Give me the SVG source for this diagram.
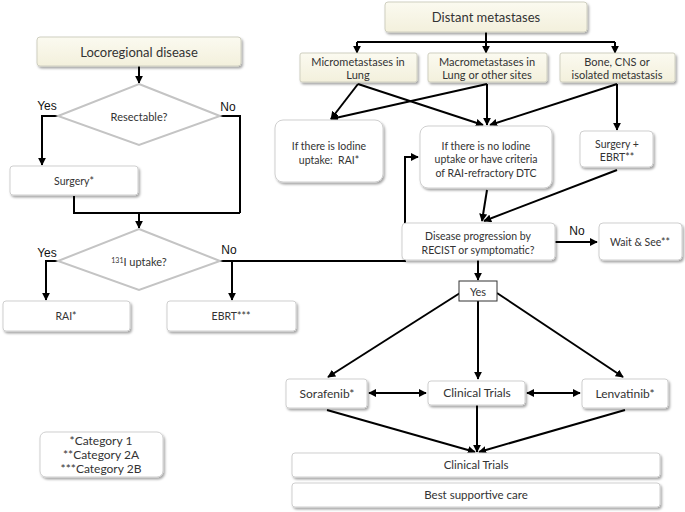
<svg xmlns="http://www.w3.org/2000/svg" width="685" height="512" viewBox="0 0 685 512">
<defs>
<filter id="sh" x="-10%" y="-20%" width="130%" height="160%">
<feDropShadow dx="1.5" dy="2" stdDeviation="1.2" flood-color="#000" flood-opacity="0.35"/>
</filter>
<linearGradient id="cream" x1="0" y1="0" x2="0" y2="1">
<stop offset="0" stop-color="#fbfaf0"/>
<stop offset="1" stop-color="#f3f0dc"/>
</linearGradient>
<marker id="ah" viewBox="0 0 10 10" refX="9" refY="5" markerWidth="8" markerHeight="8" markerUnits="userSpaceOnUse" orient="auto-start-reverse">
<path d="M0,0 L10,5 L0,10 z" fill="#000"/>
</marker>
</defs>
<style>
.box{fill:#fff;stroke:#cfcfcf;stroke-width:1;filter:url(#sh)}
.cr{fill:url(#cream);stroke:#cfcfc0;stroke-width:1;filter:url(#sh)}
.dia{fill:#fff;stroke:#c4c4c4;stroke-width:2}
.t{font-family:Lato,"Liberation Sans",sans-serif;fill:#333;text-anchor:middle}
.a{font-family:"Liberation Sans",Arial,sans-serif;fill:#111;font-size:12px;text-anchor:middle}
.c{fill:none;stroke:#000;stroke-width:2}
.m{marker-end:url(#ah)}
.d{marker-start:url(#ah);marker-end:url(#ah)}
</style>
<rect width="685" height="512" fill="#fff"/>

<g id="connectors">
<path class="c m" d="M139,66 V83"/>
<path class="c m" d="M60,116 H42 V165"/>
<path class="c" d="M220,116 H240 V213"/>
<path class="c" d="M74,196 V213 H240"/>
<path class="c m" d="M139,213 V228"/>
<path class="c m" d="M58,261 H46 V300"/>
<path class="c m" d="M220,261 H232 V300"/>
<path class="c m" d="M232,261 H405 V157 H418"/>
<path class="c" d="M486,32 V42 M357,42 H615"/>
<path class="c m" d="M357,42 V53"/>
<path class="c m" d="M486,42 V53"/>
<path class="c m" d="M615,42 V53"/>
<path class="c m" d="M358,84 L331,119"/>
<path class="c m" d="M358,84 L483,125"/>
<path class="c m" d="M487,84 L331,119"/>
<path class="c m" d="M487,84 V125"/>
<path class="c m" d="M617,84 L490,125"/>
<path class="c m" d="M617,84 V130"/>
<path class="c m" d="M487,190 L482,221"/>
<path class="c m" d="M617,170 L484,221"/>
<path class="c m" d="M555,242 H597"/>
<path class="c m" d="M478,260 V280"/>
<path class="c m" d="M460,293 L328,377"/>
<path class="c m" d="M478,301 V379"/>
<path class="c m" d="M497,293 L623,377"/>
<path class="c d" d="M369,393 H426"/>
<path class="c d" d="M527,393 H580"/>
<path class="c m" d="M327,410 L475,452"/>
<path class="c m" d="M477,405 V452"/>
<path class="c m" d="M625,410 L479,452"/>
</g>

<g id="locoregional"><rect class="cr" x="37" y="37" width="204" height="29" rx="3"/><text class="t" x="139" y="57" font-size="13">Locoregional disease</text></g>
<g id="resectable"><path class="dia" d="M139,84 L220,116 L139,145 L58,116 z"/><text class="t" x="139" y="121" font-size="11">Resectable?</text></g>
<g id="labels1"><text class="a" x="47" y="110">Yes</text><text class="a" x="228" y="111">No</text></g>
<g id="surgery"><rect class="box" x="10" y="166" width="128" height="29" rx="3"/><text class="t" x="74" y="185" font-size="10.5">Surgery*</text></g>
<g id="uptake"><path class="dia" d="M139,229 L220,261 L139,290 L58,261 z"/><text class="t" x="139" y="266" font-size="11"><tspan font-size="7" dy="-3">131</tspan><tspan dy="3">I uptake?</tspan></text></g>
<g id="labels2"><text class="a" x="47" y="257">Yes</text><text class="a" x="229" y="254">No</text></g>
<g id="rai"><rect class="box" x="3" y="301" width="127" height="30" rx="3"/><text class="t" x="66" y="320" font-size="10.5">RAI*</text></g>
<g id="ebrt"><rect class="box" x="167" y="301" width="129" height="30" rx="3"/><text class="t" x="231" y="320" font-size="10.5">EBRT***</text></g>

<g id="distant"><rect class="cr" x="385" y="2" width="202" height="30" rx="3"/><text class="t" x="486" y="22" font-size="13">Distant metastases</text></g>
<g id="micro"><rect class="cr" x="300" y="53" width="117" height="29" rx="2"/><text class="t" x="358" y="66" font-size="11">Micrometastases in</text><text class="t" x="358" y="79" font-size="11">Lung</text></g>
<g id="macro"><rect class="cr" x="428" y="53" width="119" height="29" rx="2"/><text class="t" x="487" y="66" font-size="11">Macrometastases in</text><text class="t" x="487" y="79" font-size="11">Lung or other sites</text></g>
<g id="bone"><rect class="cr" x="560" y="53" width="115" height="29" rx="2"/><text class="t" x="617" y="66" font-size="11">Bone, CNS or</text><text class="t" x="617" y="79" font-size="11">isolated metastasis</text></g>
<g id="iodine"><rect class="box" x="275" y="120" width="108" height="62" rx="8"/><text class="t" x="329" y="150" font-size="10.5">If there is Iodine</text><text class="t" x="329" y="164" font-size="10.5" xml:space="preserve">uptake:  RAI*</text></g>
<g id="noiodine"><rect class="box" x="420" y="126" width="132" height="62" rx="8"/><text class="t" x="486" y="150" font-size="10.5">If there is no Iodine</text><text class="t" x="486" y="163" font-size="10.5">uptake or have criteria</text><text class="t" x="486" y="177" font-size="10.5">of RAI-refractory DTC</text></g>
<g id="surgebrt"><rect class="box" x="580" y="131" width="73" height="36" rx="4"/><text class="t" x="617" y="148" font-size="10.5">Surgery +</text><text class="t" x="617" y="161" font-size="10.5">EBRT**</text></g>

<g id="progression"><rect class="box" x="402" y="223" width="153" height="37" rx="4"/><text class="t" x="478" y="240" font-size="10.5">Disease progression by</text><text class="t" x="478" y="254" font-size="10.5">RECIST or symptomatic?</text></g>
<g id="nolabel"><text class="a" x="577" y="235">No</text></g>
<g id="wait"><rect class="box" x="599" y="223" width="83" height="37" rx="4"/><text class="t" x="640" y="246" font-size="10.5">Wait &amp; See**</text></g>
<g id="yes"><rect x="459" y="281" width="38" height="20" fill="#fff" stroke="#333" stroke-width="1"/><text class="t" x="478" y="296" font-size="11">Yes</text></g>

<g id="sorafenib"><rect class="box" x="286" y="379" width="81" height="29" rx="3"/><text class="t" x="327" y="398" font-size="12">Sorafenib*</text></g>
<g id="clinical1"><rect class="box" x="428" y="381" width="97" height="24" rx="3"/><text class="t" x="477" y="397" font-size="12">Clinical Trials</text></g>
<g id="lenvatinib"><rect class="box" x="582" y="379" width="86" height="29" rx="3"/><text class="t" x="625" y="398" font-size="12">Lenvatinib*</text></g>
<g id="clinical2"><rect class="box" x="292" y="453" width="368" height="24" rx="3"/><text class="t" x="476" y="469" font-size="11.5">Clinical Trials</text></g>
<g id="bsc"><rect class="box" x="292" y="483" width="368" height="24" rx="3"/><text class="t" x="476" y="499" font-size="11.5">Best supportive care</text></g>

<g id="legend"><rect class="box" x="40" y="432" width="123" height="45" rx="6"/><text class="t" x="101" y="445" font-size="12">*Category 1</text><text class="t" x="101" y="459" font-size="12">**Category 2A</text><text class="t" x="101" y="473" font-size="12">***Category 2B</text></g>
</svg>
